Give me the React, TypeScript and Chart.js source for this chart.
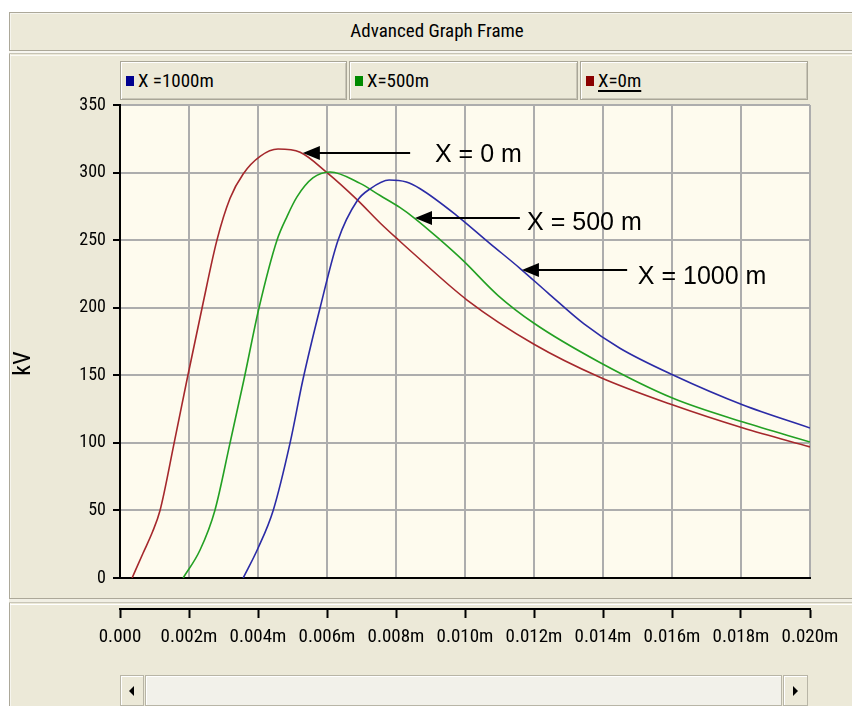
import React, { useEffect, useRef } from 'react';
import { Chart, registerables } from 'chart.js';

Chart.register(...registerables);

const NARROW = 'Roboto, "Open Sans", "Liberation Sans", sans-serif';
const SANS = '"Liberation Sans", Arial, sans-serif';

// Series (time in seconds, voltage in kV)
const seriesLabels = ['X =1000m', 'X=500m', 'X=0m'];
const lineColors = ['#2b2ba6', '#23a023', '#a5282c'];
const swatchColors = ['#000090', '#008a00', '#8a0000'];

const timeBlue = [0.00357, 0.0040, 0.00444, 0.00493, 0.0053, 0.0058, 0.00632, 0.00687, 0.00725, 0.0078, 0.0083, 0.0087, 0.00977, 0.0107, 0.0116, 0.0124, 0.01345, 0.01449, 0.01603, 0.01806, 0.0200];
const kvBlue = [0, 22, 50, 100, 146.5, 200, 250, 279, 288, 294.5, 293, 288, 268, 248, 229, 211, 188, 170, 150.2, 128, 111];

const timeGreen = [0.00183, 0.00232, 0.00275, 0.00319, 0.00359, 0.00403, 0.00455, 0.00485, 0.00513, 0.00559, 0.00609, 0.00696, 0.00754, 0.00812, 0.00855, 0.0092, 0.00994, 0.01096, 0.0120, 0.01391, 0.01603, 0.01806, 0.0200];
const kvGreen = [0, 20.7, 50, 100, 146.5, 200, 250, 268, 282, 296, 300.4, 292, 283, 274, 266, 252, 235, 209, 188.5, 159.5, 133, 115.4, 100.6];

const timeRed = [0.00035, 0.00067, 0.00094, 0.00116, 0.00157, 0.00194, 0.00238, 0.00281, 0.00319, 0.00357, 0.00406, 0.00458, 0.00522, 0.0060, 0.00687, 0.00754, 0.00812, 0.00849, 0.01006, 0.0120, 0.01391, 0.01603, 0.01806, 0.0200];
const kvRed = [0, 18.5, 34, 50, 100, 146.5, 200, 250, 281, 299, 312, 317.4, 315, 300, 280, 262.7, 249, 240.5, 205.7, 173, 148.6, 128, 111, 97];

const seriesTimes = [timeBlue, timeGreen, timeRed];
const seriesValues = [kvBlue, kvGreen, kvRed];

// Axes
const xMin = 0;
const xMax = 0.02;
const xStep = 0.002;
const yMin = 0;
const yMax = 350;
const yStep = 50;
const yTitle = 'kV';

// Annotations (data units)
const noteTexts = ['X = 0 m', 'X = 500 m', 'X = 1000 m'];
const arrowTipX = [0.0053, 0.00855, 0.01165];
const arrowTailX = [0.00841, 0.01159, 0.0147];
const arrowY = [314.5, 266.4, 227.9];
const noteX = [0.00913, 0.0118, 0.01501];
const noteY = [313, 262.7, 222.7];

const condensedText = {
  id: 'condensedText',
  beforeDraw(chart: any) {
    try { chart.ctx.fontStretch = 'condensed'; } catch (e) { /* ignore */ }
  },
};

const plotBackground = {
  id: 'plotBackground',
  beforeDraw(chart: any) {
    const { ctx, chartArea } = chart;
    if (!chartArea) return;
    ctx.save();
    ctx.fillStyle = '#fefbee';
    ctx.fillRect(chartArea.left, chartArea.top, chartArea.right - chartArea.left, chartArea.bottom - chartArea.top);
    ctx.restore();
  },
};

const arrowNotes = {
  id: 'arrowNotes',
  afterDatasetsDraw(chart: any) {
    const { ctx } = chart;
    const xs = chart.scales.x;
    const ys = chart.scales.y;
    ctx.save();
    for (let i = 0; i < noteTexts.length; i++) {
      const tipX = xs.getPixelForValue(arrowTipX[i]);
      const tailX = xs.getPixelForValue(arrowTailX[i]);
      const ay = ys.getPixelForValue(arrowY[i]);
      ctx.strokeStyle = '#000';
      ctx.fillStyle = '#000';
      ctx.lineWidth = 2;
      ctx.beginPath();
      ctx.moveTo(tailX, ay);
      ctx.lineTo(tipX + 14, ay);
      ctx.stroke();
      ctx.beginPath();
      ctx.moveTo(tipX, ay);
      ctx.lineTo(tipX + 17, ay - 7);
      ctx.lineTo(tipX + 17, ay + 7);
      ctx.closePath();
      ctx.fill();
      ctx.fontStretch = 'normal';
      ctx.font = `25px ${SANS}`;
      ctx.textAlign = 'left';
      ctx.textBaseline = 'middle';
      ctx.fillText(noteTexts[i], xs.getPixelForValue(noteX[i]), ys.getPixelForValue(noteY[i]));
    }
    ctx.restore();
  },
};

function formatTime(v: number) {
  if (Math.abs(v) < 1e-12) return '0.000';
  return v.toFixed(3) + 'm';
}

function MainPlot() {
  const ref = useRef<HTMLCanvasElement>(null);
  useEffect(() => {
    const datasets = seriesLabels.map((label, i) => ({
      label,
      data: seriesTimes[i].map((t, j) => ({ x: t, y: seriesValues[i][j] })),
      borderColor: lineColors[i],
      backgroundColor: lineColors[i],
      borderWidth: 1.6,
      pointRadius: 0,
      fill: false,
      cubicInterpolationMode: 'monotone' as const,
    }));
    const chart = new Chart(ref.current!, {
      type: 'line',
      data: { datasets },
      options: {
        responsive: false,
        animation: false,
        layout: { padding: { left: 0, right: 42, top: 25, bottom: 20 } },
        plugins: { legend: { display: false }, tooltip: { enabled: false } },
        scales: {
          x: {
            type: 'linear',
            min: xMin,
            max: xMax,
            ticks: { display: false, stepSize: xStep },
            grid: { color: '#adadad', lineWidth: 2, drawTicks: false },
            border: { color: '#000', width: 2 },
            afterFit: (s: any) => { s.height = 0; },
          },
          y: {
            min: yMin,
            max: yMax,
            ticks: { stepSize: yStep, color: '#000', font: { family: NARROW, size: 18, weight: 'condensed' }, padding: 7 },
            grid: { color: '#adadad', lineWidth: 2, tickLength: 7, tickColor: '#000', tickWidth: 2 },
            border: { color: '#000', width: 2 },
            title: {
              display: true,
              text: yTitle + '        ',
              color: '#000',
              font: { family: NARROW, size: 24, weight: 'condensed' },
              padding: { top: 0, bottom: 0 },
            },
            afterFit: (s: any) => { s.width = 110; },
          },
        },
      } as any,
      plugins: [condensedText, plotBackground, arrowNotes],
    });
    return () => chart.destroy();
  }, []);
  return <canvas ref={ref} width={842} height={518} style={{ position: 'absolute', left: 10, top: 80, width: 842, height: 518 }} />;
}

function TimeAxis() {
  const ref = useRef<HTMLCanvasElement>(null);
  useEffect(() => {
    const chart = new Chart(ref.current!, {
      type: 'line',
      data: { datasets: [] },
      options: {
        responsive: false,
        animation: false,
        layout: { padding: { left: 110, right: 42, top: 4, bottom: 0 } },
        plugins: { legend: { display: false }, tooltip: { enabled: false } },
        scales: {
          x: {
            type: 'linear',
            position: 'bottom',
            min: xMin,
            max: xMax,
            ticks: {
              stepSize: xStep,
              autoSkip: false,
              maxRotation: 0,
              color: '#000',
              font: { family: NARROW, size: 19, weight: 'condensed' },
              padding: 8,
              callback: (v: any) => formatTime(Number(v)),
            },
            grid: { drawOnChartArea: false, drawTicks: true, tickLength: 9, tickColor: '#000', tickWidth: 2 },
            border: { color: '#000', width: 2 },
            afterFit: (s: any) => { s.height = 61; },
          },
          y: { display: false, min: 0, max: 1 },
        },
      } as any,
      plugins: [condensedText],
    });
    return () => chart.destroy();
  }, []);
  return <canvas ref={ref} width={842} height={74} style={{ position: 'absolute', left: 10, top: 596, width: 842, height: 74 }} />;
}

const FRAME_BG = '#ece9d8';
const GRAY = '#aca899';

function Line({ left, top, width, height, color }: any) {
  return <div style={{ position: 'absolute', left, top, width, height, background: color }} />;
}

export default function App() {
  const legendLefts = [120, 349, 580];
  const legendWidths = [227, 229, 228];
  return (
    <div style={{ position: 'absolute', left: 0, top: 0, width: 852, height: 706, background: '#fff', overflow: 'hidden', fontFamily: NARROW, fontStretch: '75%' }}>
      <div style={{ position: 'absolute', left: 9, top: 12, width: 860, height: 700, background: FRAME_BG }} />
      <Line left={9} top={12} width={860} height={1} color={GRAY} />
      <Line left={9} top={13} width={860} height={1} color="#f6f5ee" />
      <Line left={9} top={12} width={1} height={700} color={GRAY} />
      <Line left={10} top={13} width={1} height={700} color="#f6f5ee" />
      <div style={{ position: 'absolute', left: 9, top: 13, width: 856, height: 36, lineHeight: '36px', textAlign: 'center', fontSize: 19, color: '#000' }}>
        Advanced Graph Frame
      </div>
      <Line left={9} top={50} width={860} height={1} color={GRAY} />
      <Line left={9} top={51} width={860} height={2} color="#f7f6f0" />
      <Line left={9} top={53} width={860} height={1} color="#c7c4b6" />
      <Line left={10} top={55} width={860} height={1} color="#fbfaf6" />
      {seriesLabels.map((label, i) => (
        <div key={label} style={{ position: 'absolute', left: legendLefts[i], top: 61, width: legendWidths[i], height: 39, boxSizing: 'border-box', background: FRAME_BG, border: '1px solid #a9a697', boxShadow: 'inset 1px 1px 0 #ffffff, inset -1px -1px 0 #c9c6b8' }}>
          <div style={{ position: 'absolute', left: 5, top: 14, width: 8, height: 10, background: swatchColors[i] }} />
          <div style={{ position: 'absolute', left: 17, top: 6, height: 26, lineHeight: '26px', fontSize: 19, color: '#000', whiteSpace: 'nowrap', textDecoration: i === 2 ? 'underline' : 'none', textDecorationThickness: 2, textUnderlineOffset: 3 }}>
            {label}
          </div>
        </div>
      ))}
      <MainPlot />
      <Line left={9} top={598} width={860} height={1} color={GRAY} />
      <Line left={9} top={599} width={860} height={3} color="#f1efe4" />
      <Line left={9} top={602} width={860} height={1} color="#c9c6b8" />
      <Line left={10} top={604} width={860} height={1} color="#ffffff" />
      <TimeAxis />
      <div style={{ position: 'absolute', left: 120, top: 675, width: 24, height: 31, boxSizing: 'border-box', background: FRAME_BG, border: '1px solid #b8b5a6', boxShadow: 'inset 1px 1px 0 #fff' }}>
        <div style={{ position: 'absolute', left: 8, top: 10, width: 0, height: 0, borderTop: '5px solid transparent', borderBottom: '5px solid transparent', borderRight: '5px solid #000' }} />
      </div>
      <div style={{ position: 'absolute', left: 145, top: 675, width: 637, height: 31, boxSizing: 'border-box', background: '#f2f1ea', border: '1px solid #b8b5a6', boxShadow: 'inset 1px 1px 0 #fff' }} />
      <div style={{ position: 'absolute', left: 783, top: 675, width: 25, height: 31, boxSizing: 'border-box', background: FRAME_BG, border: '1px solid #b8b5a6', boxShadow: 'inset 1px 1px 0 #fff' }}>
        <div style={{ position: 'absolute', left: 9, top: 10, width: 0, height: 0, borderTop: '5px solid transparent', borderBottom: '5px solid transparent', borderLeft: '5px solid #000' }} />
      </div>
    </div>
  );
}
